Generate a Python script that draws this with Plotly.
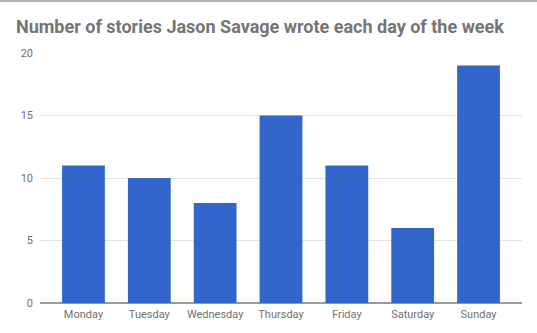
import plotly.graph_objects as go

days = ["Monday", "Tuesday", "Wednesday", "Thursday", "Friday", "Saturday", "Sunday"]
stories = [11, 10, 8, 15, 11, 6, 19]
y_ticks = [0, 5, 10, 15, 20]

fig = go.Figure(go.Bar(x=days, y=stories, marker=dict(color="#3366CC", line=dict(width=0)), width=0.65))

fig.update_layout(
    width=537, height=333,
    margin=dict(l=40, r=15, t=53, b=30),
    paper_bgcolor="white", plot_bgcolor="white",
    font=dict(family="Roboto", size=11, color="#707070"),
    title=dict(text="<b>Number of stories Jason Savage wrote each day of the week</b>",
               x=16/537, xanchor="left", xref="container",
               y=1-27/333, yanchor="middle", yref="container",
               font=dict(family="Roboto", size=18, color="#757575")),
    showlegend=False,
)
fig.update_xaxes(range=[-0.66, 6.66], showgrid=False, ticks="", tickfont=dict(size=11, color="#707070"),
                 showline=False, zeroline=False, ticklabelstandoff=3)
fig.update_yaxes(range=[0, 20], tickvals=y_ticks, showgrid=True, gridcolor="#e3e3e3", gridwidth=1,
                 zeroline=True, zerolinecolor="#999999", zerolinewidth=1.5, ticks="", ticklabelstandoff=6,
                 tickfont=dict(size=11, color="#707070"))
fig.add_shape(type="line", xref="paper", yref="paper", x0=-40/482, x1=1+15/482, y0=1+52/250, y1=1+52/250,
              line=dict(color="#999999", width=1.5))

fig.write_html("out.html")
